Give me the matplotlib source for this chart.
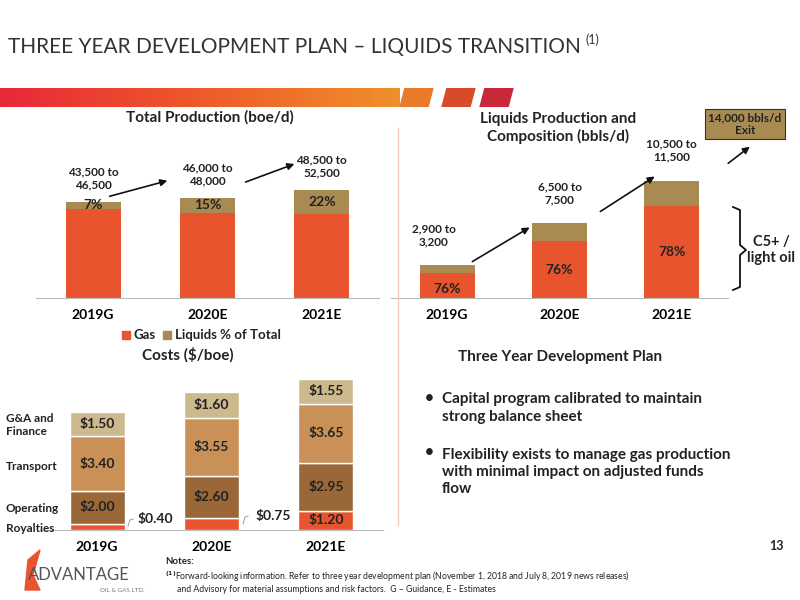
import matplotlib
matplotlib.use("Agg")
import matplotlib.pyplot as plt
import numpy as np
from matplotlib.patches import Polygon, Rectangle

plt.rcParams['font.family'] = ['Lato', 'DejaVu Sans']
plt.rcParams['font.weight'] = 'bold'

years = ["2019G", "2020E", "2021E"]
total_prod = [45000, 47000, 50500]
total_labels = ["43,500 to\n46,500", "46,000 to\n48,000", "48,500 to\n52,500"]
liquids_pct = [7, 15, 22]

liq_prod = [3050, 7000, 11000]
liq_labels = ["2,900 to\n3,200", "6,500 to\n7,500", "10,500 to\n11,500"]
c5_pct = [76, 76, 78]

royalties = [0.40, 0.75, 1.20]
operating = [2.00, 2.60, 2.95]
transport = [3.40, 3.55, 3.65]
gna = [1.50, 1.60, 1.55]

RED = "#E8542E"
TAN = "#A88B52"
OPC = "#9A6838"
TRC = "#C99157"
GAC = "#CDB98E"
TXT = "#222222"

fig = plt.figure(figsize=(8, 6), dpi=100)
def P(x, y):
    return (x / 800, 1 - y / 600)

# title
t = fig.text(*P(8, 47), "THREE YEAR DEVELOPMENT PLAN – LIQUIDS TRANSITION", fontsize=15, color="#333333",
             fontweight='normal', va='center')
fig.text(*P(585, 40), "(1)", fontsize=9, color="#333333", fontweight='normal', va='center')

# banner
bax = fig.add_axes([0, 1 - 107 / 600, 1, 19 / 600])
bax.axis('off')
grad = np.linspace(0, 1, 256)
cmap = matplotlib.colors.LinearSegmentedColormap.from_list("b", ["#E8283A", "#EE5A2A", "#F0902A"])
bax.imshow(grad[None, :], aspect='auto', cmap=cmap, extent=[0, 400, 0, 1])
bax.set_xlim(0, 800); bax.set_ylim(0, 1)
for x0, c in [(400, "#E87A2A"), (442, "#D84B2A"), (480, "#C8283A")]:
    bax.add_patch(Polygon([(x0, 0), (x0 + 28, 0), (x0 + 33, 1), (x0 + 5, 1)], closed=True, color=c))

# divider
fig.add_artist(plt.Line2D([398 / 800, 398 / 800], [1 - 128 / 600, 1 - 525 / 600], color="#F2C8C0", lw=1))

def style(ax):
    ax.set_xlim(-0.5, 2.5)
    ax.set_yticks([]); ax.set_xticks(np.arange(3)); ax.set_xticklabels(years, fontsize=10)
    for s in ["top", "right", "left"]:
        ax.spines[s].set_visible(False)
    ax.spines['bottom'].set_color("#BBBBBB")
    ax.tick_params(axis='x', length=0, pad=8)

x = np.arange(3)
# ---- Total production
ax1 = fig.add_axes([36 / 800, 1 - 298 / 600, 343 / 800, 160 / 600])
liq = [t * p / 100 for t, p in zip(total_prod, liquids_pct)]
gas = [t - l for t, l in zip(total_prod, liq)]
ax1.bar(x, gas, 0.48, color=RED)
ax1.bar(x, liq, 0.48, bottom=gas, color=TAN)
for i in range(3):
    ax1.text(x[i], gas[i] + liq[i] / 2, f"{liquids_pct[i]}%", ha='center', va='center', fontsize=10, color=TXT)
    ax1.text(x[i], total_prod[i] + 5500, total_labels[i], ha='center', va='bottom', fontsize=8.5, color=TXT)
ax1.set_ylim(0, 75000)
style(ax1)
fig.text(*P(210, 117), "Total Production (boe/d)", ha='center', va='center', fontsize=11, color=TXT)
fig.add_artist(Rectangle(P(122, 339), 8 / 800, 8 / 600, color=RED))
fig.text(*P(134, 335), "Gas", fontsize=9.5, va='center', color=TXT)
fig.add_artist(Rectangle(P(163, 339), 8 / 800, 8 / 600, color=TAN))
fig.text(*P(175, 335), "Liquids % of Total", fontsize=9.5, va='center', color=TXT)

def arrow(a, b):
    fig.add_artist(matplotlib.patches.FancyArrowPatch(P(*a), P(*b), transform=fig.transFigure,
                   arrowstyle='-|>', mutation_scale=10, color="#111111", lw=1.2))
arrow((107, 197), (170, 180))
arrow((243, 183), (297, 163))

# ---- Liquids production
ax2 = fig.add_axes([391 / 800, 1 - 298 / 600, 337 / 800, 160 / 600])
c5 = [t * p / 100 for t, p in zip(liq_prod, c5_pct)]
oth = [t - c for t, c in zip(liq_prod, c5)]
ax2.bar(x, c5, 0.49, color=RED)
ax2.bar(x, oth, 0.49, bottom=c5, color=TAN)
for i in range(3):
    ax2.text(x[i], c5[i] / 2 if i else c5[i] / 2 - 300, f"{c5_pct[i]}%", ha='center', va='center', fontsize=10, color=TXT)
    ax2.text(x[i] - (0.12 if i == 0 else 0), liq_prod[i] + 1700, liq_labels[i], ha='center', va='bottom', fontsize=8.5, color=TXT)
ax2.set_ylim(0, 15000)
style(ax2)
fig.text(*P(558, 128), "Liquids Production and\nComposition (bbls/d)", ha='center', va='center', fontsize=11, color=TXT)
fig.text(*P(745, 124), "14,000 bbls/d\nExit", ha='center', va='center', fontsize=8.5, color=TXT,
         bbox=dict(boxstyle='square,pad=0.25', fc=TAN, ec="#333333", lw=0.8))
arrow((470, 263), (532, 226))
arrow((598, 213), (657, 175))
arrow((726, 165), (752, 145))
bx = [733, 740, 740, 746, 740, 740, 733]
by = [207, 210, 245, 250, 255, 287, 290]
fig.add_artist(plt.Line2D([v / 800 for v in bx], [1 - v / 600 for v in by], color="#111111", lw=1.3))
fig.text(*P(771, 250), "C5+ /\nlight oil", ha='center', va='center', fontsize=10.5, color=TXT)

# ---- Costs
ax3 = fig.add_axes([40 / 800, 1 - 530 / 600, 343 / 800, 162 / 600])
b = np.zeros(3)
for vals, col, lab in [(royalties, RED, False), (operating, OPC, True), (transport, TRC, True), (gna, GAC, True)]:
    ax3.bar(x, vals, 0.48, bottom=b, color=col, edgecolor='white', lw=1)
    for i in range(3):
        if lab or i == 2:
            ax3.text(x[i], b[i] + vals[i] / 2, f"${vals[i]:.2f}", ha='center', va='center', fontsize=10, color=TXT)
    b += np.array(vals)
ax3.set_ylim(0, 10)
style(ax3)
fig.text(*P(188, 355), "Costs ($/boe)", ha='center', va='center', fontsize=11, color=TXT)
fig.text(*P(138, 519), "$0.40", fontsize=10, va='center', color=TXT)
fig.text(*P(256, 516), "$0.75", fontsize=10, va='center', color=TXT)
fig.add_artist(plt.Line2D([128/800, 130/800, 133/800], [1-526/600, 1-520/600, 1-519/600], color="#999999", lw=0.7))
fig.add_artist(plt.Line2D([243/800, 245/800, 248/800], [1-524/600, 1-517/600, 1-516/600], color="#999999", lw=0.7))
for tt, yy in [("G&A and\nFinance", 425), ("Transport", 467), ("Operating", 508), ("Royalties", 528)]:
    fig.text(*P(6, yy), tt, fontsize=8.5, va='center', color=TXT)

# ---- Three year plan text
fig.text(*P(560, 357), "Three Year Development Plan", ha='center', va='center', fontsize=11, color=TXT)
fig.text(*P(425, 398), "•", fontsize=11, va='center', color=TXT)
fig.text(*P(442, 408), "Capital program calibrated to maintain\nstrong balance sheet", fontsize=11,
         va='center', color=TXT, linespacing=1.3)
fig.text(*P(425, 452), "•", fontsize=11, va='center', color=TXT)
fig.text(*P(442, 472), "Flexibility exists to manage gas production\nwith minimal impact on adjusted funds\nflow",
         fontsize=11, va='center', color=TXT, linespacing=1.3)

# notes
fig.text(*P(165, 562), "Notes:", fontsize=7, va='center', color=TXT)
fig.text(*P(165, 577), "$^{(1)}$Forward-looking information. Refer to three year development plan (November 1, 2018 and July 8, 2019 news releases)",
         fontsize=6.2, va='center', color=TXT, fontweight='normal')
fig.text(*P(177, 589), "and Advisory for material assumptions and risk factors.  G – Guidance, E - Estimates",
         fontsize=6.2, va='center', color=TXT, fontweight='normal')
fig.text(*P(776, 546), "13", fontsize=9, ha='center', va='center', color=TXT)

# logo
fig.text(*P(28, 575), "ADVANTAGE", fontsize=12, va='center', color="#555555", fontweight='normal')
fig.text(*P(100, 590), "OIL & GAS LTD.", fontsize=4.5, va='center', color="#777777", fontweight='normal')
fig.add_artist(Polygon([P(25, 590), P(28, 560), P(40, 550), P(33, 575), P(40, 590)], closed=True,
                       transform=fig.transFigure, color="#E8542E"))

fig.savefig("out.png", dpi=100)
